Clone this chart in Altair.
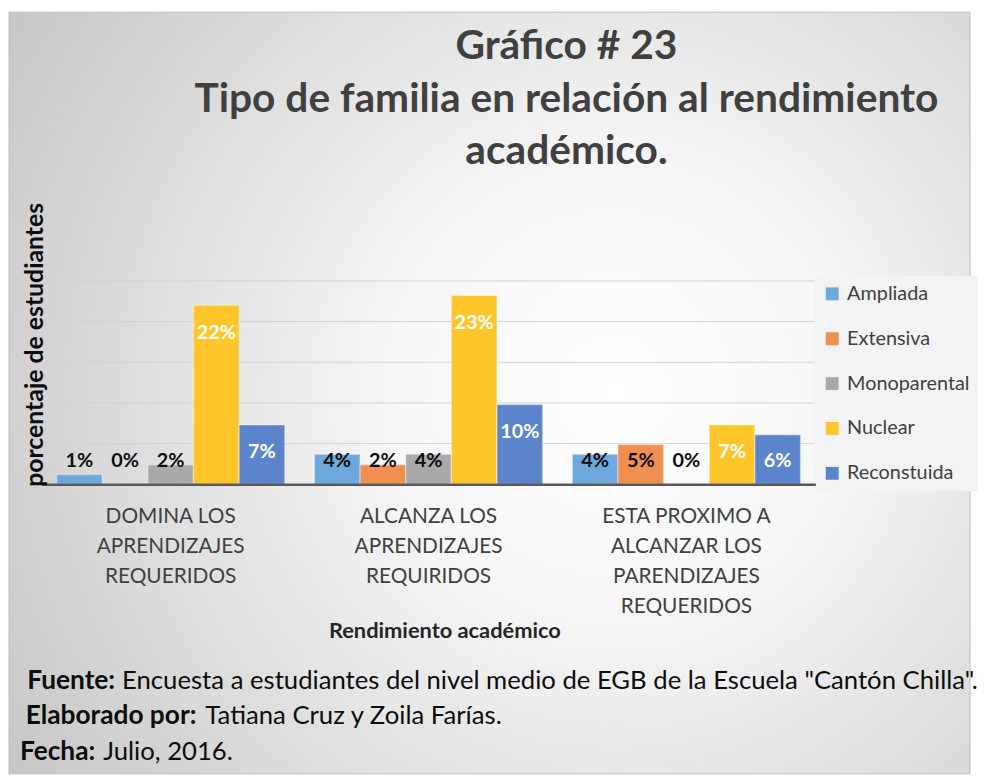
import altair as alt
import pandas as pd

# ---- data ----
categories = [
    "DOMINA LOS\nAPRENDIZAJES\nREQUERIDOS",
    "ALCANZA LOS\nAPRENDIZAJES\nREQUIRIDOS",
    "ESTA PROXIMO A\nALCANZAR LOS\nPARENDIZAJES\nREQUERIDOS",
]
series = ["Ampliada", "Extensiva", "Monoparental", "Nuclear", "Reconstuida"]
colors = ["#6fa8dc", "#ef8f50", "#a9a9a9", "#fec62b", "#5b84cb"]
domina = [1.2, 0.0, 2.4, 22.0, 7.3]
alcanza = [3.7, 2.4, 3.7, 23.2, 9.8]
proximo = [3.7, 4.9, 0.0, 7.3, 6.1]
grid_ticks = [5, 10, 15, 20, 25]

title_lines = ["Gráfico # 23", "Tipo de familia en relación al rendimiento", "académico."]
x_title = "Rendimiento académico"
y_title = "porcentaje de estudiantes"
footer_bold = ["Fuente:", "Elaborado por:", "Fecha:"]
footer_text = [
    'Encuesta a estudiantes del nivel medio de EGB de la Escuela "Cantón Chilla".',
    "Tatiana Cruz y Zoila Farías.",
    "Julio, 2016.",
]

rows = []
for cat, vals in zip(categories, [domina, alcanza, proximo]):
    for s, v in zip(series, vals):
        rows.append({"cat": cat, "serie": s, "v": v})
df = pd.DataFrame(rows)
grid_df = pd.DataFrame({"t": grid_ticks})

FONT = "Lato"
W, H = 780, 205
yscale = alt.Scale(domain=[0, 25], nice=False, zero=True)
xscale = alt.Scale(paddingInner=0.115, paddingOuter=0.0575)
offscale = alt.Scale(paddingInner=0, paddingOuter=0)

xaxis = alt.Axis(
    labelExpr="split(datum.label, '\\n')",
    labelAngle=0,
    labelFont=FONT,
    labelFontSize=21,
    labelColor="#404040",
    labelLineHeight=30,
    labelPadding=22,
    labelLimit=0,
    ticks=False,
    grid=False,
    domainColor="#595959",
    domainWidth=2.5,
    title=x_title,
    titleFont=FONT,
    titleFontSize=22,
    titleFontWeight="bold",
    titleColor="#262626",
    titleX=406,
    titleY=148,
    titleAlign="center",
    titleBaseline="middle",
    zindex=2,
)
yaxis = alt.Axis(
    labels=False,
    ticks=False,
    domain=False,
    grid=False,
    title=y_title,
    titleFont=FONT,
    titleFontSize=25,
    titleFontWeight="bold",
    titleColor="#0d0d0d",
    titleAngle=270,
    titleX=1,
    titleY=64,
    titleAlign="center",
    titleBaseline="alphabetic",
    zindex=2,
)

bg = alt.Chart(alt.Data(values=[{"k": 1}])).mark_rect(
    fill={
        "gradient": "radial",
        "x1": 0.63, "y1": 0.5, "r1": 0,
        "x2": 0.63, "y2": 0.5, "r2": 0.78,
        "stops": [
            {"offset": 0, "color": "#ffffff"},
            {"offset": 0.3, "color": "#f6f6f6"},
            {"offset": 1, "color": "#c3c3c3"},
        ],
    },
    stroke="#bdbdbd",
    strokeWidth=1,
).encode(
    x=alt.value(-33), x2=alt.value(936), y=alt.value(-271), y2=alt.value(497)
)

grid = alt.Chart(grid_df).mark_rule(color="#d2d2d2", strokeWidth=1).encode(
    y=alt.Y("t:Q", scale=yscale, axis=yaxis),
    x=alt.value(4),
    x2=alt.value(W),
)

bars = alt.Chart(df).mark_bar(stroke="white", strokeOpacity=0.35, strokeWidth=1.5).encode(
    x=alt.X("cat:N", sort=categories, scale=xscale, axis=xaxis),
    xOffset=alt.XOffset("serie:N", sort=series, scale=offscale),
    y=alt.Y("v:Q", scale=yscale, axis=yaxis),
    color=alt.Color(
        "serie:N",
        sort=series,
        scale=alt.Scale(domain=series, range=colors),
        legend=alt.Legend(
            title=None,
            orient="none",
            legendX=779,
            legendY=-5,
            symbolType="square",
            symbolSize=169,
            symbolStrokeWidth=0,
            labelFont=FONT,
            labelFontSize=20,
            labelColor="#404040",
            labelOffset=5,
            rowPadding=25.25,
            padding=8,
            fillColor="#f3f3f3",
        ),
    ),
)

labels = alt.Chart(df).transform_calculate(
    ly="max(datum.v - 3.4, 2.9)",
    txt="format(datum.v, '.0f') + '%'",
).mark_text(font=FONT, fontSize=20, fontWeight="bold", baseline="middle").encode(
    x=alt.X("cat:N", sort=categories, scale=xscale, axis=xaxis),
    xOffset=alt.XOffset("serie:N", sort=series, scale=offscale),
    y=alt.Y("ly:Q", scale=yscale, axis=yaxis),
    text="txt:N",
    color=alt.condition(
        alt.FieldOneOfPredicate(field="serie", oneOf=["Nuclear", "Reconstuida"]),
        alt.value("#ffffff"),
        alt.value("#0d0d0d"),
    ),
)

footer_layers = []
bold_end = [74, 156, 54]
text_start = [81, 165, 62]
line_y = [403, 439, 475]
one = alt.Data(values=[{"k": 1}])
for b, t, xb, xt, yy in zip(footer_bold, footer_text, bold_end, text_start, line_y):
    footer_layers.append(
        alt.Chart(one).mark_text(
            font=FONT, fontSize=26.5, fontWeight="bold", color="#0d0d0d",
            align="right", baseline="middle",
        ).encode(x=alt.value(xb), y=alt.value(yy), text=alt.value(b))
    )
    footer_layers.append(
        alt.Chart(one).mark_text(
            font=FONT, fontSize=25.9, color="#0d0d0d",
            align="left", baseline="middle",
        ).encode(x=alt.value(xt), y=alt.value(yy), text=alt.value(t))
    )

chart = alt.layer(bg, grid, bars, labels, *footer_layers).properties(
    width=W,
    height=H,
    padding=0,
    background="#ffffff",
    title=alt.TitleParams(
        text=title_lines,
        font=FONT,
        fontSize=41,
        fontWeight="bold",
        color="#404040",
        anchor="middle",
        frame="group",
        dx=139,
        offset=-163,
        baseline="top",
        lineHeight=53,
    ),
).configure_view(strokeWidth=0)

chart.save("out.html", embed_options={"renderer": "svg", "actions": False})
